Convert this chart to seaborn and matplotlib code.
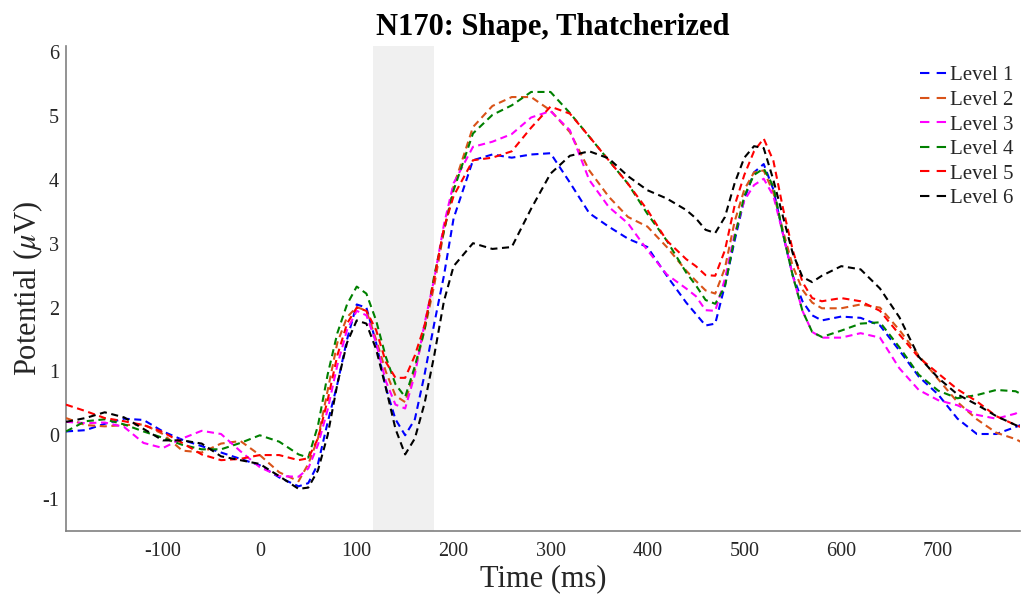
import numpy as np
import pandas as pd
import matplotlib
matplotlib.use("Agg")
import matplotlib.pyplot as plt
from matplotlib.lines import Line2D
import seaborn as sns

# ---- data ----
time_ms = [-200, -180, -160, -140, -120, -100, -80, -60, -40, -20, 0, 20, 40,
           50, 60, 70, 80, 90, 100, 110, 120, 130, 140, 150, 160, 170, 180, 190, 200,
           220, 240, 260, 280, 300, 320, 340, 360, 380, 400, 420, 440,
           450, 460, 470, 480, 490, 500, 510, 520, 530, 540, 550, 560, 570, 580,
           600, 620, 640, 660, 680, 700, 720, 740, 760, 780, 785]

level1 = [0.06, 0.08, 0.18, 0.26, 0.24, 0.06, -0.07, -0.17, -0.27, -0.37, -0.47, -0.66, -0.80,
          -0.75, -0.45, 0.20, 0.80, 1.50, 2.05, 2.00, 1.45, 0.75, 0.25, 0.00, 0.25, 0.95, 1.75, 2.50, 3.40,
          4.31, 4.40, 4.35, 4.40, 4.42, 3.96, 3.48, 3.27, 3.08, 2.95, 2.50, 2.08,
          1.90, 1.72, 1.75, 2.35, 3.05, 3.70, 4.12, 4.25, 3.85, 3.15, 2.50, 2.10, 1.88, 1.80,
          1.86, 1.84, 1.72, 1.33, 0.92, 0.64, 0.26, 0.02, 0.02, 0.13, 0.16]

level2 = [0.27, 0.16, 0.14, 0.16, 0.17, 0.02, -0.24, -0.27, -0.13, -0.09, -0.31, -0.58, -0.72,
          -0.45, -0.05, 0.70, 1.45, 1.85, 2.01, 1.95, 1.50, 1.00, 0.62, 0.52, 1.02, 1.65, 2.35, 3.20, 3.90,
          4.83, 5.16, 5.30, 5.30, 5.09, 4.75, 4.15, 3.74, 3.42, 3.27, 2.95, 2.58,
          2.42, 2.27, 2.22, 2.62, 3.35, 3.85, 4.12, 4.15, 3.80, 3.20, 2.65, 2.28, 2.08, 1.99,
          1.99, 2.05, 2.00, 1.65, 1.25, 0.88, 0.52, 0.25, 0.04, -0.06, -0.10]

level3 = [0.21, 0.19, 0.20, 0.13, -0.12, -0.20, -0.05, 0.07, 0.02, -0.25, -0.50, -0.64, -0.65,
          -0.52, -0.15, 0.40, 1.10, 1.65, 1.95, 1.88, 1.45, 0.85, 0.48, 0.42, 0.95, 1.75, 2.45, 3.30, 3.95,
          4.52, 4.60, 4.72, 4.98, 5.08, 4.78, 4.00, 3.58, 3.32, 2.90, 2.52, 2.30,
          2.18, 1.96, 1.95, 2.45, 3.15, 3.68, 3.92, 4.02, 3.75, 3.15, 2.50, 1.95, 1.62, 1.53,
          1.53, 1.60, 1.53, 1.05, 0.71, 0.55, 0.47, 0.32, 0.26, 0.34, 0.39]

level4 = [0.06, 0.22, 0.25, 0.17, 0.06, -0.04, -0.15, -0.22, -0.22, -0.12, 0.00, -0.10, -0.30,
          -0.35, 0.15, 0.95, 1.60, 2.05, 2.33, 2.22, 1.80, 1.23, 0.80, 0.60, 1.08, 1.65, 2.50, 3.20, 3.84,
          4.73, 5.02, 5.17, 5.38, 5.38, 5.05, 4.68, 4.31, 3.94, 3.47, 3.05, 2.55,
          2.35, 2.12, 2.06, 2.33, 3.10, 3.75, 4.08, 4.18, 3.90, 3.15, 2.50, 1.95, 1.62, 1.54,
          1.64, 1.75, 1.77, 1.38, 0.95, 0.70, 0.58, 0.63, 0.71, 0.69, 0.65]

level5 = [0.48, 0.38, 0.27, 0.22, 0.16, 0.05, -0.12, -0.30, -0.39, -0.37, -0.31, -0.31, -0.39,
          -0.36, -0.05, 0.55, 1.25, 1.75, 2.00, 1.95, 1.65, 1.15, 0.90, 0.90, 1.25, 1.72, 2.45, 3.25, 3.75,
          4.31, 4.35, 4.45, 4.82, 5.15, 5.04, 4.68, 4.31, 3.94, 3.53, 3.05, 2.76,
          2.65, 2.51, 2.50, 2.90, 3.60, 4.08, 4.45, 4.65, 4.30, 3.55, 2.90, 2.40, 2.15, 2.10,
          2.15, 2.10, 1.95, 1.58, 1.22, 0.97, 0.72, 0.53, 0.30, 0.16, 0.13]

level6 = [0.21, 0.27, 0.36, 0.28, 0.10, -0.08, -0.08, -0.13, -0.33, -0.39, -0.45, -0.64, -0.84,
          -0.82, -0.55, 0.00, 0.80, 1.45, 1.80, 1.75, 1.35, 0.75, 0.10, -0.30, -0.05, 0.50, 1.25, 2.10, 2.65,
          3.01, 2.92, 2.95, 3.55, 4.10, 4.38, 4.45, 4.34, 4.06, 3.84, 3.71, 3.53,
          3.40, 3.22, 3.17, 3.42, 3.95, 4.35, 4.53, 4.50, 4.00, 3.42, 2.85, 2.48, 2.40, 2.50,
          2.65, 2.60, 2.30, 1.85, 1.23, 0.90, 0.64, 0.48, 0.30, 0.16, 0.13]

level_names = ["Level 1", "Level 2", "Level 3", "Level 4", "Level 5", "Level 6"]
level_colors = ["#0000FF", "#D95319", "#FF00FF", "#008000", "#FF0000", "#000000"]
window_ms = [117, 180]
x_ticks = [-100, 0, 100, 200, 300, 400, 500, 600, 700]
y_ticks = [-1, 0, 1, 2, 3, 4, 5, 6]

series = [level1, level2, level3, level4, level5, level6]
df = pd.concat([pd.DataFrame({"Time": time_ms, "Potential": s, "Level": n})
                for s, n in zip(series, level_names)], ignore_index=True)

# ---- style ----
sns.set_style("white")
plt.rcParams["font.family"] = ["Liberation Serif", "DejaVu Serif"]
plt.rcParams["mathtext.fontset"] = "stix"
plt.rcParams["axes.unicode_minus"] = False
axis_gray = "#262626"

fig = plt.figure(figsize=(10.21, 5.97), dpi=100)
ax = fig.add_axes([66 / 1021, 1 - 531 / 597, (1021 - 66) / 1021 - 0.0005, (531 - 46) / 597])

ax.axvspan(window_ms[0], window_ms[1], color="#f0f0f0", zorder=0, lw=0)

sns.lineplot(data=df, x="Time", y="Potential", hue="Level", style="Level",
             palette=dict(zip(level_names, level_colors)),
             dashes={n: (3.4, 2.2) for n in level_names},
             linewidth=1.5, ax=ax, legend=False, zorder=3)

ax.set_xlim(-200, 785)
ax.set_ylim(-1.5, 6.1)
ax.set_xticks(x_ticks)
ax.set_yticks(y_ticks)
ax.tick_params(direction="in", length=5, width=1, colors="#808080",
               labelsize=14.5, labelcolor=axis_gray)
ax.tick_params(axis="x", pad=8)
ax.tick_params(axis="y", pad=5)
for side in ["top", "right"]:
    ax.spines[side].set_visible(False)
for side in ["left", "bottom"]:
    ax.spines[side].set_color("#808080")
    ax.spines[side].set_linewidth(1.2)

ax.set_xlabel("Time (ms)", fontsize=22, color=axis_gray, labelpad=2)
ax.set_ylabel(r"Potential ($\mu$V)", fontsize=22, color=axis_gray)
ax.yaxis.set_label_coords(-0.022, 0.5)
ax.set_title("N170: Shape, Thatcherized", fontsize=22, fontweight="bold",
             color="black", pad=8, x=0.51)

handles = [Line2D([0], [0], color=c, lw=1.5, dashes=(4.5, 3.5)) for c in level_colors]
leg = ax.legend(handles, level_names, loc="upper right", bbox_to_anchor=(1.006, 0.985),
                frameon=False, fontsize=15, handlelength=1.3, handletextpad=0.15,
                labelspacing=0.24, borderaxespad=0.2)
for t in leg.get_texts():
    t.set_color(axis_gray)

fig.savefig("out.png", dpi=100)
